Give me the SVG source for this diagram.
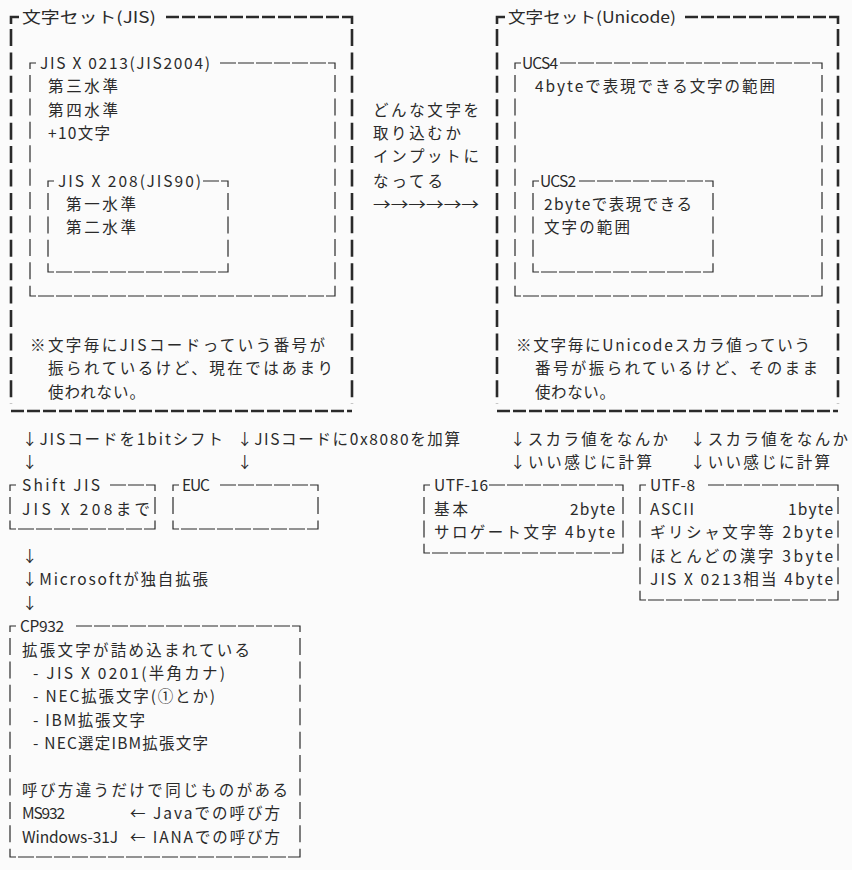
<svg xmlns="http://www.w3.org/2000/svg" width="852" height="870" viewBox="0 0 852 870">
<style>
text{font-family:"Noto Sans CJK JP","DejaVu Sans",sans-serif;font-size:15.5px;fill:#2a2a2a}
.th{stroke:#2a2a2a;stroke-width:2.6;fill:none;stroke-dasharray:13 3}
.tv{stroke:#2a2a2a;stroke-width:2.6;fill:none;stroke-dasharray:17 6.42}
.nh{stroke:#2a2a2a;stroke-width:1.2;fill:none;stroke-dasharray:16 2}
.nv{stroke:#2a2a2a;stroke-width:1.2;fill:none;stroke-dasharray:17 6.42}
.c{stroke:#2a2a2a;stroke-width:1.2;fill:none}
.ct{stroke:#2a2a2a;stroke-width:2.6;fill:none}
</style>
<rect width="852" height="870" fill="#fbfbfb"/>
<g id="jis-set">
<path class="ct" d="M11,24 V17 H19"/><path class="ct" d="M345,17 H352 V24"/>
<line class="th" x1="166" y1="17" x2="345" y2="17"/>
<line class="tv" x1="11" y1="29" x2="11" y2="404"/><line class="tv" x1="352" y1="29" x2="352" y2="404"/>
<line class="th" x1="11" y1="411" x2="352" y2="411"/>
<text x="22" y="23" textLength="134" lengthAdjust="spacingAndGlyphs">文字セット(JIS)</text>
<text x="30" y="351" textLength="295" lengthAdjust="spacing">※文字毎にJISコードっていう番号が</text>
<text x="48" y="374" textLength="285" lengthAdjust="spacing">振られているけど、現在ではあまり</text>
<text x="48" y="398" textLength="97" lengthAdjust="spacing">使われない。</text>
</g>
<g id="jis0213">
<path class="c" d="M30,69 V63 H36"/><path class="c" d="M329,63 H335 V69"/>
<line class="nh" x1="220" y1="63" x2="329" y2="63"/>
<line class="nv" x1="30" y1="75" x2="30" y2="290"/><line class="nv" x1="335" y1="75" x2="335" y2="290"/>
<path class="c" d="M30,290 V296 H36"/><path class="c" d="M329,296 H335 V290"/>
<line class="nh" x1="38" y1="296" x2="329" y2="296"/>
<text x="40" y="69" textLength="170" lengthAdjust="spacing">JIS X 0213(JIS2004)</text>
<text x="48" y="92" textLength="70" lengthAdjust="spacing">第三水準</text>
<text x="48" y="116" textLength="70" lengthAdjust="spacing">第四水準</text>
<text x="48" y="139" textLength="62" lengthAdjust="spacing">+10文字</text>
</g>
<g id="jis208">
<path class="c" d="M48,187 V181 H54"/><path class="c" d="M222,181 H228 V187"/>
<line class="nh" x1="203" y1="181" x2="222" y2="181"/>
<line class="nv" x1="48" y1="193" x2="48" y2="266"/><line class="nv" x1="228" y1="193" x2="228" y2="266"/>
<path class="c" d="M48,266 V272 H54"/><path class="c" d="M222,272 H228 V266"/>
<line class="nh" x1="56" y1="272" x2="222" y2="272"/>
<text x="58" y="187" textLength="143" lengthAdjust="spacing">JIS X 208(JIS90)</text>
<text x="66" y="210" textLength="70" lengthAdjust="spacing">第一水準</text>
<text x="66" y="233" textLength="70" lengthAdjust="spacing">第二水準</text>
</g>
<g id="middle">
<text x="373" y="116" textLength="106" lengthAdjust="spacing">どんな文字を</text>
<text x="373" y="139" textLength="88" lengthAdjust="spacing">取り込むか</text>
<text x="373" y="162" textLength="106" lengthAdjust="spacing">インプットに</text>
<text x="373" y="187" textLength="70" lengthAdjust="spacing">なってる</text>
<text x="373" y="210" textLength="106" lengthAdjust="spacingAndGlyphs">→→→→→→</text>
</g>
<g id="unicode-set">
<path class="ct" d="M497,24 V17 H505"/><path class="ct" d="M831,17 H838 V24"/>
<line class="th" x1="685" y1="17" x2="831" y2="17"/>
<line class="tv" x1="497" y1="29" x2="497" y2="404"/><line class="tv" x1="838" y1="29" x2="838" y2="404"/>
<line class="th" x1="497" y1="411" x2="838" y2="411"/>
<text x="508" y="23" textLength="168" lengthAdjust="spacingAndGlyphs">文字セット(Unicode)</text>
<text x="516" y="351" textLength="294" lengthAdjust="spacing">※文字毎にUnicodeスカラ値っていう</text>
<text x="535" y="374" textLength="283" lengthAdjust="spacing">番号が振られているけど、そのまま</text>
<text x="535" y="398" textLength="80" lengthAdjust="spacing">使わない。</text>
</g>
<g id="ucs4">
<path class="c" d="M515,69 V63 H521"/><path class="c" d="M816,63 H822 V69"/>
<line class="nh" x1="560" y1="63" x2="816" y2="63"/>
<line class="nv" x1="515" y1="75" x2="515" y2="290"/><line class="nv" x1="822" y1="75" x2="822" y2="290"/>
<path class="c" d="M515,290 V296 H521"/><path class="c" d="M816,296 H822 V290"/>
<line class="nh" x1="523" y1="296" x2="816" y2="296"/>
<text x="522" y="69" textLength="36" lengthAdjust="spacing">UCS4</text>
<text x="535" y="92" textLength="240" lengthAdjust="spacing">4byteで表現できる文字の範囲</text>
</g>
<g id="ucs2">
<path class="c" d="M533,187 V181 H539"/><path class="c" d="M707,181 H713 V187"/>
<line class="nh" x1="579" y1="181" x2="707" y2="181"/>
<line class="nv" x1="533" y1="193" x2="533" y2="266"/><line class="nv" x1="713" y1="193" x2="713" y2="266"/>
<path class="c" d="M533,266 V272 H539"/><path class="c" d="M707,272 H713 V266"/>
<line class="nh" x1="541" y1="272" x2="707" y2="272"/>
<text x="540" y="187" textLength="36" lengthAdjust="spacing">UCS2</text>
<text x="544" y="210" textLength="148" lengthAdjust="spacing">2byteで表現できる</text>
<text x="544" y="233" textLength="86" lengthAdjust="spacing">文字の範囲</text>
</g>
<g id="labels">
<text x="22" y="445" textLength="201" lengthAdjust="spacing">↓JISコードを1bitシフト</text>
<text x="237" y="445" textLength="223" lengthAdjust="spacing">↓JISコードに0x8080を加算</text>
<text x="510" y="445" textLength="158" lengthAdjust="spacing">↓スカラ値をなんか</text>
<text x="690" y="445" textLength="158" lengthAdjust="spacing">↓スカラ値をなんか</text>
<text x="22" y="468">↓</text>
<text x="237" y="468">↓</text>
<text x="510" y="468" textLength="142" lengthAdjust="spacing">↓いい感じに計算</text>
<text x="690" y="468" textLength="140" lengthAdjust="spacing">↓いい感じに計算</text>
<text x="22" y="562">↓</text>
<text x="22" y="585" textLength="186" lengthAdjust="spacing">↓Microsoftが独自拡張</text>
<text x="22" y="609">↓</text>
</g>
<g id="shiftjis">
<path class="c" d="M10,491 V485 H16"/><path class="c" d="M149,485 H155 V491"/>
<line class="nh" x1="110" y1="485" x2="149" y2="485"/>
<line class="nv" x1="10" y1="497" x2="10" y2="523"/><line class="nv" x1="155" y1="497" x2="155" y2="523"/>
<path class="c" d="M10,523 V529 H16"/><path class="c" d="M149,529 H155 V523"/>
<line class="nh" x1="18" y1="529" x2="149" y2="529"/>
<text x="22" y="491" textLength="78" lengthAdjust="spacing">Shift JIS</text>
<text x="22" y="515" textLength="128" lengthAdjust="spacing">JIS X 208まで</text>
</g>
<g id="euc">
<path class="c" d="M173,491 V485 H179"/><path class="c" d="M312,485 H318 V491"/>
<line class="nh" x1="220" y1="485" x2="312" y2="485"/>
<line class="nv" x1="173" y1="497" x2="173" y2="523"/><line class="nv" x1="318" y1="497" x2="318" y2="523"/>
<path class="c" d="M173,523 V529 H179"/><path class="c" d="M312,529 H318 V523"/>
<line class="nh" x1="181" y1="529" x2="312" y2="529"/>
<text x="182" y="491" textLength="28" lengthAdjust="spacing">EUC</text>
</g>
<g id="utf16">
<path class="c" d="M424,491 V485 H430"/><path class="c" d="M617,485 H623 V491"/>
<line class="nh" x1="489" y1="485" x2="617" y2="485"/>
<line class="nv" x1="424" y1="497" x2="424" y2="547"/><line class="nv" x1="623" y1="497" x2="623" y2="547"/>
<path class="c" d="M424,547 V553 H430"/><path class="c" d="M617,553 H623 V547"/>
<line class="nh" x1="432" y1="553" x2="617" y2="553"/>
<text x="434" y="491" textLength="54" lengthAdjust="spacing">UTF-16</text>
<text x="434" y="515" textLength="34" lengthAdjust="spacing">基本</text>
<text x="570" y="515" textLength="45" lengthAdjust="spacing">2byte</text>
<text x="434" y="538" textLength="181" lengthAdjust="spacing">サロゲート文字 4byte</text>
</g>
<g id="utf8">
<path class="c" d="M640,491 V485 H646"/><path class="c" d="M832,485 H838 V491"/>
<line class="nh" x1="708" y1="485" x2="832" y2="485"/>
<line class="nv" x1="640" y1="497" x2="640" y2="594"/><line class="nv" x1="838" y1="497" x2="838" y2="594"/>
<path class="c" d="M640,594 V600 H646"/><path class="c" d="M832,600 H838 V594"/>
<line class="nh" x1="648" y1="600" x2="832" y2="600"/>
<text x="650" y="491" textLength="45" lengthAdjust="spacing">UTF-8</text>
<text x="650" y="515" textLength="44" lengthAdjust="spacing">ASCII</text>
<text x="788" y="515" textLength="45" lengthAdjust="spacing">1byte</text>
<text x="650" y="538" textLength="183" lengthAdjust="spacing">ギリシャ文字等 2byte</text>
<text x="650" y="562" textLength="183" lengthAdjust="spacing">ほとんどの漢字 3byte</text>
<text x="650" y="585" textLength="183" lengthAdjust="spacing">JIS X 0213相当 4byte</text>
</g>
<g id="cp932">
<path class="c" d="M10,632 V626 H16"/><path class="c" d="M294,626 H300 V632"/>
<line class="nh" x1="76" y1="626" x2="294" y2="626"/>
<line class="nv" x1="10" y1="638" x2="10" y2="851"/><line class="nv" x1="300" y1="638" x2="300" y2="851"/>
<path class="c" d="M10,851 V857 H16"/><path class="c" d="M294,857 H300 V851"/>
<line class="nh" x1="18" y1="857" x2="294" y2="857"/>
<text x="20" y="632" textLength="44" lengthAdjust="spacing">CP932</text>
<text x="22" y="656" textLength="228" lengthAdjust="spacing">拡張文字が詰め込まれている</text>
<text x="33" y="679" textLength="192" lengthAdjust="spacing">- JIS X 0201(半角カナ)</text>
<text x="33" y="702" textLength="182" lengthAdjust="spacing">- NEC拡張文字(①とか)</text>
<text x="33" y="726" textLength="112" lengthAdjust="spacing">- IBM拡張文字</text>
<text x="33" y="749" textLength="175" lengthAdjust="spacing">- NEC選定IBM拡張文字</text>
<text x="22" y="796" textLength="266" lengthAdjust="spacing">呼び方違うだけで同じものがある</text>
<text x="22" y="819" textLength="43" lengthAdjust="spacing">MS932</text>
<text x="130" y="819" textLength="150" lengthAdjust="spacing">← Javaでの呼び方</text>
<text x="22" y="843" textLength="96" lengthAdjust="spacing">Windows-31J</text>
<text x="130" y="843" textLength="150" lengthAdjust="spacing">← IANAでの呼び方</text>
</g>
</svg>
